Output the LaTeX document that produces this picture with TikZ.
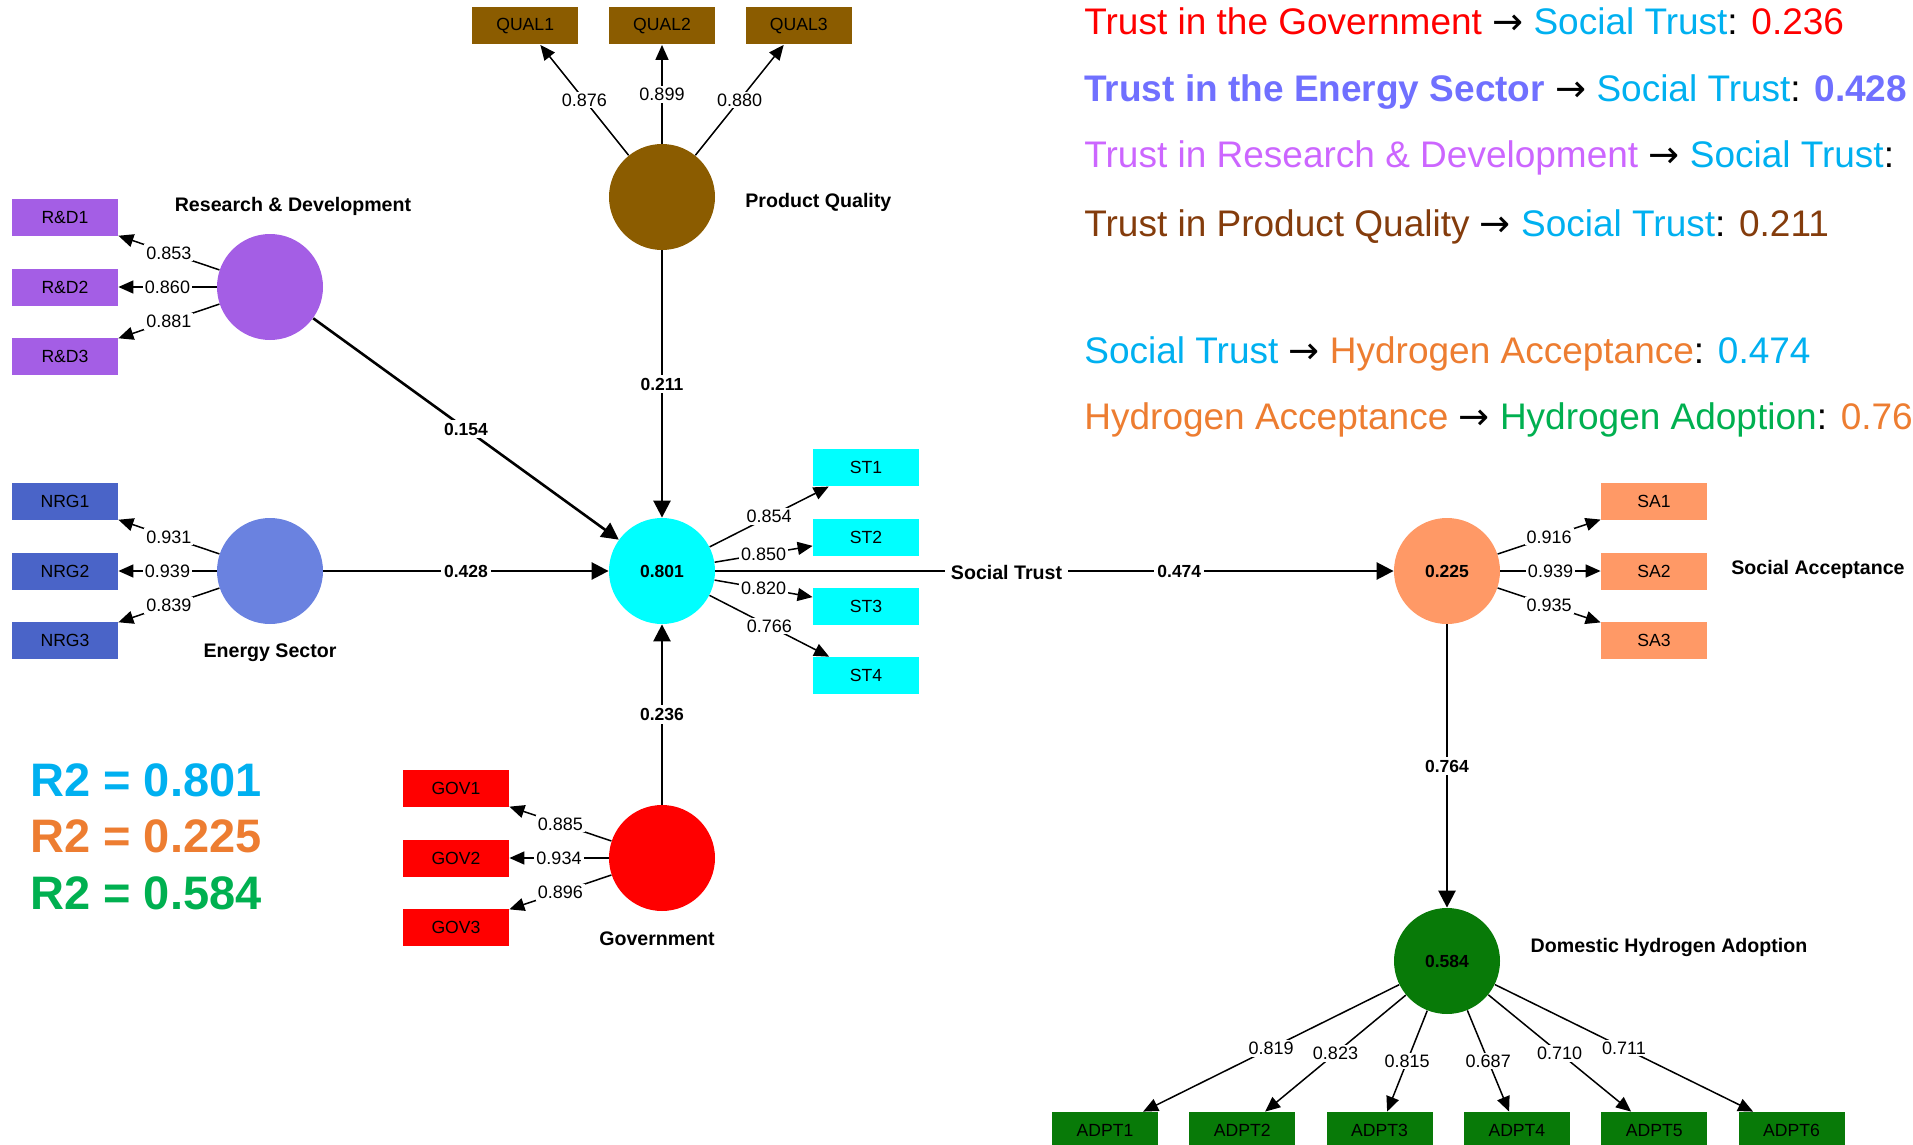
\documentclass[tikz,border=0pt]{standalone}
\usepackage{fontspec}
\setmainfont{Liberation Sans}
\newfontfamily\arrowfont{DejaVu Sans}
\usepackage{xcolor}
\usetikzlibrary{arrows.meta,positioning}

\definecolor{rdcol}{HTML}{A45EE5}
\definecolor{nrgbox}{HTML}{4A64C8}
\definecolor{nrgcol}{HTML}{6A82E0}
\definecolor{pqcol}{HTML}{8B5C00}
\definecolor{stcol}{HTML}{00FFFF}
\definecolor{govcol}{HTML}{FF0000}
\definecolor{sacol}{HTML}{FF9966}
\definecolor{dhacol}{HTML}{087A08}
% text colours of the summary
\definecolor{txtcyan}{HTML}{00B0F0}
\definecolor{txtnrg}{HTML}{7070FF}
\definecolor{txtrd}{HTML}{CC66FF}
\definecolor{txtbrown}{HTML}{843C0C}
\definecolor{txtorange}{HTML}{ED7D31}
\definecolor{txtgreen}{HTML}{00B050}

\newcommand{\goesto}{{\arrowfont\bfseries\mdseries →}}

\begin{document}
\begin{tikzpicture}[
  x=0.5pt,y=-0.5pt,
  latent/.style={
    circle,draw=none,minimum size=53pt,inner sep=0pt,
    font=\fontsize{8.75}{10}\selectfont\bfseries
  },
  indicator/.style={
    rectangle,minimum width=53pt,minimum height=18.5pt,inner sep=0pt,
    font=\fontsize{8.8}{10}\selectfont
  },
  lvname/.style={font=\fontsize{9.8}{11}\selectfont\bfseries,inner sep=1pt},
  coef/.style={fill=white,inner sep=1.5pt,font=\fontsize{8.75}{10}\selectfont\bfseries},
  load/.style={fill=white,inner sep=1pt,font=\fontsize{9}{10}\selectfont},
  struct/.style={-{Triangle[length=8.5pt,width=8.5pt]},line width=1.3pt},
  loadarrow/.style={-{Triangle[length=7.5pt,width=6.5pt]},line width=0.75pt},
  legendtxt/.style={anchor=base west,inner sep=0pt,font=\fontsize{18.5}{22}\selectfont},
  rsq/.style={anchor=base west,inner sep=0pt,font=\fontsize{23.5}{28}\selectfont\bfseries}
]
\useasboundingbox (0,0) rectangle (1913,1145);
\clip (0,0) rectangle (1913,1145);

% constructs
\node[latent,fill=rdcol] (rd) at (270,287) {};
\node[latent,fill=nrgcol] (nrg) at (270,571) {};
\node[latent,fill=pqcol] (pq) at (662,197) {};
\node[latent,fill=stcol] (st) at (662,571) {0.801};
\node[latent,fill=govcol] (gov) at (662,858) {};
\node[latent,fill=sacol] (sa) at (1447,571) {0.225};
\node[latent,fill=dhacol] (dha) at (1447,961) {0.584};

% items
\node[indicator,fill=rdcol] (rd2) at (65,287) {R\&D2};
\node[indicator,fill=rdcol,above=15.75pt of rd2] (rd1) {R\&D1};
\node[indicator,fill=rdcol,below=15.75pt of rd2] (rd3) {R\&D3};

\node[indicator,fill=nrgbox] (nrg2) at (65,571) {NRG2};
\node[indicator,fill=nrgbox,above=15.75pt of nrg2] (nrg1) {NRG1};
\node[indicator,fill=nrgbox,below=15.75pt of nrg2] (nrg3) {NRG3};

\node[indicator,fill=pqcol] (qual2) at (662,26) {QUAL2};
\node[indicator,fill=pqcol,left=15pt of qual2] (qual1) {QUAL1};
\node[indicator,fill=pqcol,right=15pt of qual2] (qual3) {QUAL3};

\node[indicator,fill=stcol] (st2) at (866,537) {ST2};
\node[indicator,fill=stcol,above=15.75pt of st2] (st1) {ST1};
\node[indicator,fill=stcol,below=15.75pt of st2] (st3) {ST3};
\node[indicator,fill=stcol,below=15.75pt of st3] (st4) {ST4};

\node[indicator,fill=govcol] (gov2) at (456,858) {GOV2};
\node[indicator,fill=govcol,above=15.75pt of gov2] (gov1) {GOV1};
\node[indicator,fill=govcol,below=15.75pt of gov2] (gov3) {GOV3};

\node[indicator,fill=sacol] (sa2) at (1654,571) {SA2};
\node[indicator,fill=sacol,above=15.75pt of sa2] (sa1) {SA1};
\node[indicator,fill=sacol,below=15.75pt of sa2] (sa3) {SA3};

\node[indicator,fill=dhacol] (adpt1) at (1105,1130.5) {ADPT1};
\node[indicator,fill=dhacol,right=15.25pt of adpt1] (adpt2) {ADPT2};
\node[indicator,fill=dhacol,right=15.25pt of adpt2] (adpt3) {ADPT3};
\node[indicator,fill=dhacol,right=15.25pt of adpt3] (adpt4) {ADPT4};
\node[indicator,fill=dhacol,right=15.25pt of adpt4] (adpt5) {ADPT5};
\node[indicator,fill=dhacol,right=15.25pt of adpt5] (adpt6) {ADPT6};

% inner model
\draw[struct] (rd) -- node[coef] {0.154} (st);
\draw[struct] (nrg) -- node[coef] {0.428} (st);
\draw[struct] (pq) -- node[coef] {0.211} (st);
\draw[struct] (gov) -- node[coef] {0.236} (st);
\draw[struct] (st) -- node[coef,pos=0.684] {0.474} (sa);
\draw[struct] (sa) -- node[coef] {0.764} (dha);

% outer loadings
\draw[loadarrow] (rd) -- node[load] {0.853} (rd1);
\draw[loadarrow] (rd) -- node[load] {0.860} (rd2);
\draw[loadarrow] (rd) -- node[load] {0.881} (rd3);
\draw[loadarrow] (nrg) -- node[load] {0.931} (nrg1);
\draw[loadarrow] (nrg) -- node[load] {0.939} (nrg2);
\draw[loadarrow] (nrg) -- node[load] {0.839} (nrg3);
\draw[loadarrow] (pq) -- node[load] {0.876} (qual1);
\draw[loadarrow] (pq) -- node[load] {0.899} (qual2);
\draw[loadarrow] (pq) -- node[load] {0.880} (qual3);
\draw[loadarrow] (st) -- node[load] {0.854} (st1);
\draw[loadarrow] (st) -- node[load] {0.850} (st2);
\draw[loadarrow] (st) -- node[load] {0.820} (st3);
\draw[loadarrow] (st) -- node[load] {0.766} (st4);
\draw[loadarrow] (gov) -- node[load] {0.885} (gov1);
\draw[loadarrow] (gov) -- node[load] {0.934} (gov2);
\draw[loadarrow] (gov) -- node[load] {0.896} (gov3);
\draw[loadarrow] (sa) -- node[load] {0.916} (sa1);
\draw[loadarrow] (sa) -- node[load] {0.939} (sa2);
\draw[loadarrow] (sa) -- node[load] {0.935} (sa3);
\draw[loadarrow] (dha) -- node[load] {0.819} (adpt1);
\draw[loadarrow] (dha) -- node[load] {0.823} (adpt2);
\draw[loadarrow] (dha) -- node[load] {0.815} (adpt3);
\draw[loadarrow] (dha) -- node[load] {0.687} (adpt4);
\draw[loadarrow] (dha) -- node[load] {0.710} (adpt5);
\draw[loadarrow] (dha) -- node[load] {0.711} (adpt6);

% construct names
\node[lvname] (rdname) at (293,206) {Research \& Development};
\node[lvname] (nrgname) at (270,653) {Energy Sector};
\node[lvname,anchor=west] (pqname) at (743,202) {Product Quality};
\node[lvname,fill=white,inner xsep=3pt] (stname) at (1006.5,572) {Social Trust};
\node[lvname] (govname) at (657,939) {Government};
\node[lvname] (saname) at (1818,569) {Social Acceptance};
\node[lvname] (dhaname) at (1669,947) {Domestic Hydrogen Adoption};

% summary of paths
\node[legendtxt] (sum1) at (1084,35) {\textcolor{govcol}{Trust in the Government} \goesto{} \textcolor{txtcyan}{Social Trust}: \textcolor{govcol}{0.236}};
\node[legendtxt] (sum2) at (1084,102) {\textcolor{txtnrg}{\bfseries Trust in the Energy Sector} \goesto{} \textcolor{txtcyan}{Social Trust}: \textcolor{txtnrg}{\bfseries 0.428}};
\node[legendtxt] (sum3) at (1084,168) {\textcolor{txtrd}{Trust in Research \& Development} \goesto{} \textcolor{txtcyan}{Social Trust}:};
\node[legendtxt] (sum4) at (1084,236) {\textcolor{txtbrown}{Trust in Product Quality} \goesto{} \textcolor{txtcyan}{Social Trust}: \textcolor{txtbrown}{0.211}};
\node[legendtxt] (sum5) at (1084,363) {\textcolor{txtcyan}{Social Trust} \goesto{} \textcolor{txtorange}{Hydrogen Acceptance}: \textcolor{txtcyan}{0.474}};
\node[legendtxt] (sum6) at (1084,429) {\textcolor{txtorange}{Hydrogen Acceptance} \goesto{} \textcolor{txtgreen}{Hydrogen Adoption}: \textcolor{txtorange}{0.76}};

% R squared
\node[rsq,text=txtcyan] (r2st) at (30,796) {R2 = 0.801};
\node[rsq,text=txtorange] (r2sa) at (30,852) {R2 = 0.225};
\node[rsq,text=txtgreen] (r2dha) at (30,909) {R2 = 0.584};

\end{tikzpicture}
\end{document}
